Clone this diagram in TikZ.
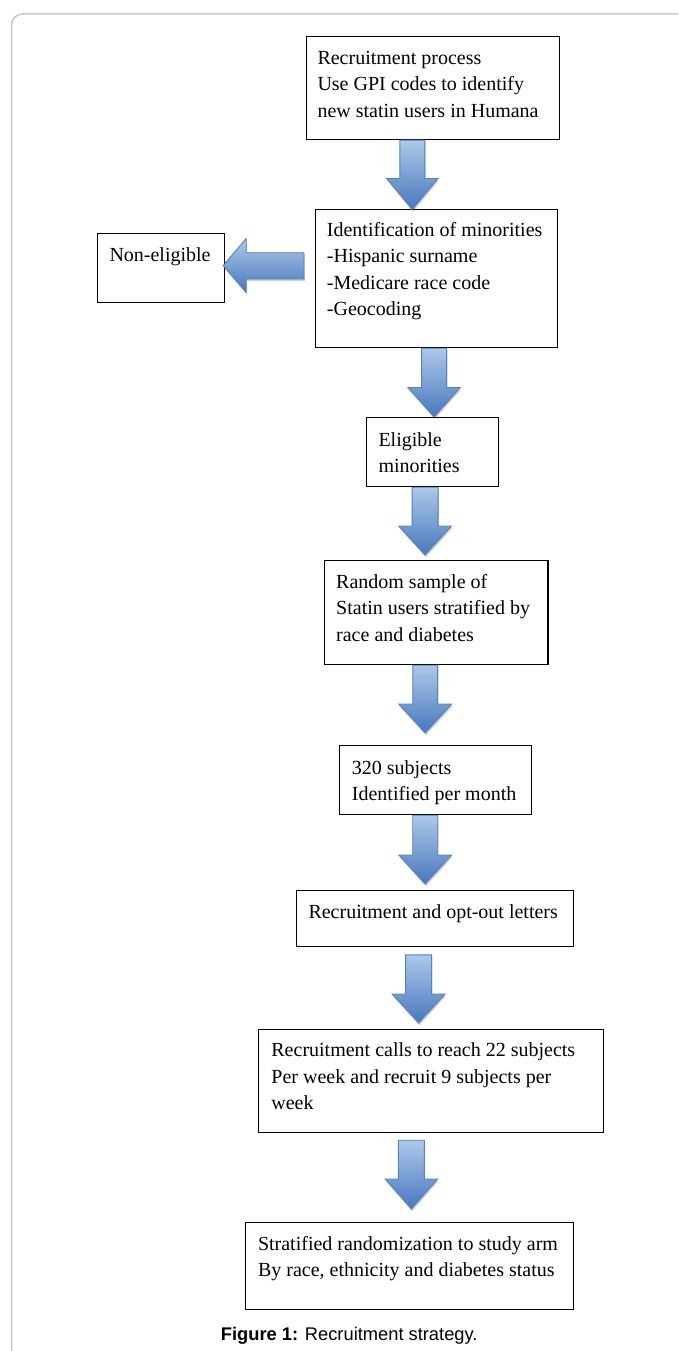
\documentclass[tikz,border=0pt]{standalone}
\usepackage{fontspec}
\setmainfont{Liberation Serif}
\newfontfamily\capfont{Liberation Sans}
\usetikzlibrary{calc,shadows}
\definecolor{arrtop}{HTML}{ADC8E9}
\definecolor{arrbot}{HTML}{4878BD}
\definecolor{arredge}{HTML}{5283C2}
\definecolor{framec}{HTML}{C8C8C8}
\tikzset{
  box/.style={draw=black, line width=1.2pt, inner sep=0pt, anchor=north west, fill=white},
  txt/.style={inner sep=0pt, anchor=base west, text=black},
  blockarrow/.style={draw=arredge, line width=0.9pt, line join=miter, top color=arrtop, bottom color=arrbot,
    drop shadow={shadow xshift=0.8pt, shadow yshift=-2.2pt, opacity=0.18, fill=black}},
}
\newcommand\boxtext[1]{\parbox[t]{340pt}{\raggedright\fontsize{20}{26.5}\selectfont #1}}
% src dst xc topgap tipgap headlen shafthalfwidth headhalfwidth
\newcommand\blockdown[8]{%
  \draw[blockarrow] let \p1=(#1.south), \p2=(#2.north) in
    ({#3pt-#7pt},{\y1-#4pt}) -- ({#3pt+#7pt},{\y1-#4pt}) -- ({#3pt+#7pt},{\y2+#5pt+#6pt})
    -- ({#3pt+#8pt},{\y2+#5pt+#6pt}) -- ({#3pt},{\y2+#5pt}) -- ({#3pt-#8pt},{\y2+#5pt+#6pt})
    -- ({#3pt-#7pt},{\y2+#5pt+#6pt}) -- cycle;}
\begin{document}
\begin{tikzpicture}[x=1pt,y=-1pt]
\useasboundingbox (0,0) rectangle (678,1351);
\fill[white] (0,0) rectangle (678,1351);
\begin{scope}
  \clip (0,0) rectangle (678,1351);
  \draw[framec, line width=1.5pt, rounded corners=11pt] (11.5,1400) -- (11.5,14) -- (720,14);
\end{scope}

% boxes
\node[box, minimum width=253.3pt, minimum height=103pt] (b1) at (305.7,36) {};
\node[box, minimum width=242pt, minimum height=138pt] (b2) at (315,209) {};
\node[box, minimum width=127.3pt, minimum height=69.3pt] (ne) at (96.7,232.7) {};
\node[box, minimum width=132pt, minimum height=69pt] (b3) at (365.7,417) {};
\node[box, minimum width=223.3pt, minimum height=104pt] (b4) at (324,560) {};
\node[box, minimum width=191.7pt, minimum height=69pt] (b5) at (339,745) {};
\node[box, minimum width=277.3pt, minimum height=55.7pt] (b6) at (295.7,890) {};
\node[box, minimum width=345pt, minimum height=103pt] (b7) at (258,1029) {};
\node[box, minimum width=328pt, minimum height=87pt] (b8) at (245,1222) {};

% texts
\node[txt] (t1) at ($(b1.north west)+(11.6,28.3)$) {\boxtext{Recruitment process\\Use GPI codes to identify\\new statin users in Humana}};
\node[txt] (t2) at ($(b2.north west)+(11.7,27.3)$) {\boxtext{Identification of minorities\\-Hispanic surname\\-Medicare race code\\-Geocoding}};
\node[txt] (tne) at ($(ne.north west)+(12.6,29)$) {\boxtext{Non-eligible}};
\node[txt] (t3) at ($(b3.north west)+(12.6,29)$) {\boxtext{Eligible\\minorities}};
\node[txt] (t4) at ($(b4.north west)+(12,28.3)$) {\boxtext{Random sample of\\Statin users stratified by\\race and diabetes}};
\node[txt] (t5) at ($(b5.north west)+(12.7,29)$) {\boxtext{320 subjects\\Identified per month}};
\node[txt] (t6) at ($(b6.north west)+(12.6,28.3)$) {\boxtext{Recruitment and opt-out letters}};
\node[txt] (t7) at ($(b7.north west)+(13.2,27.5)$) {\boxtext{Recruitment calls to reach 22 subjects\\Per week and recruit 9 subjects per\\week}};
\node[txt] (t8) at ($(b8.north west)+(12.8,28)$) {\boxtext{Stratified randomization to study arm\\By race, ethnicity and diabetes status}};

% block arrows (down)
\blockdown{b1}{b2}{412.3}{0}{-0.5}{31}{12.5}{25.7}
\blockdown{b2}{b3}{434.1}{0}{0}{29.5}{12.5}{26.2}
\blockdown{b3}{b4}{425.1}{0}{5}{29}{13}{26.4}
\blockdown{b4}{b5}{425.2}{0}{12}{29}{12.4}{26.5}
\blockdown{b5}{b6}{425.2}{0}{6}{29}{12.5}{26.4}
\blockdown{b6}{b7}{418.6}{8}{6}{29}{13}{26.5}
\blockdown{b7}{b8}{411.4}{7}{13}{30}{13}{26.2}

% block arrow (left)
\draw[blockarrow] let \p1=(b2.west), \p2=(ne.east) in
  ({\x1-11pt},{-252.7pt}) -- ({\x1-11pt},{-279pt}) -- ({\x2-2pt+23pt},{-279pt})
  -- ({\x2-2pt+23pt},{-292.5pt}) -- ({\x2-2pt},{-265.6pt}) -- ({\x2-2pt+23pt},{-238.5pt})
  -- ({\x2-2pt+23pt},{-252.7pt}) -- cycle;

% caption
\node[txt] (cap) at (220.7,1340) {\capfont\fontsize{18.3}{22}\selectfont\textbf{Figure 1:} Recruitment strategy.};
\end{tikzpicture}
\end{document}
